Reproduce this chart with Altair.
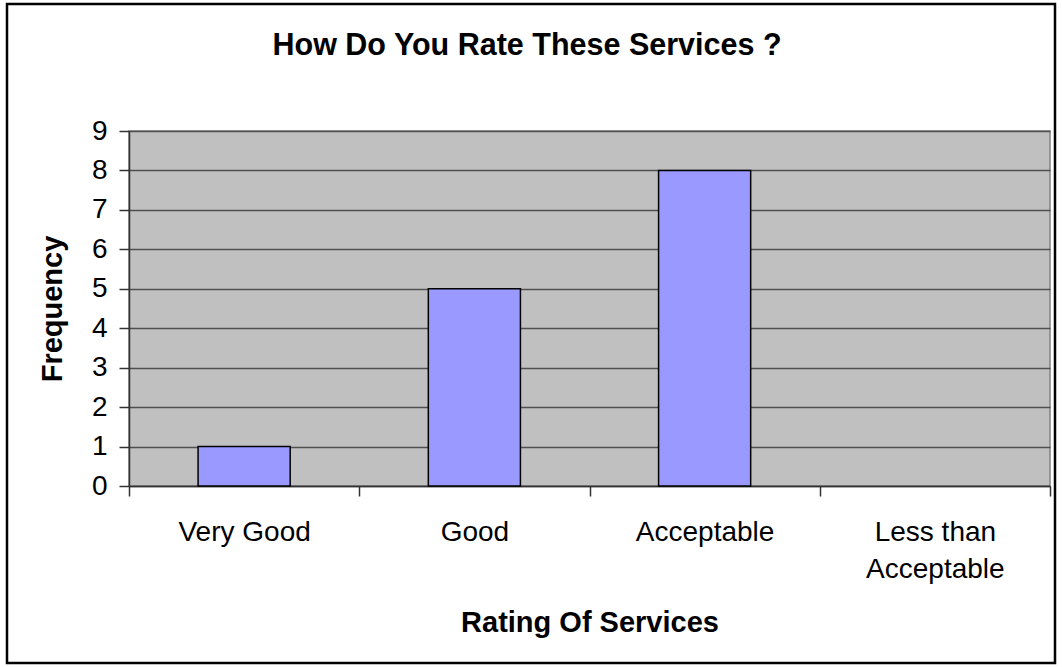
import altair as alt
import pandas as pd

categories = ["Very Good", "Good", "Acceptable", "Less than Acceptable"]
frequency = [1, 5, 8, 0]
y_ticks = [0, 1, 2, 3, 4, 5, 6, 7, 8, 9]
title_text = ["How Do You Rate These Services ?"]

df = pd.DataFrame({"rating": categories, "freq": frequency})
tdf = pd.DataFrame({"t": title_text})

FONT = "Liberation Sans"
W, H = 921, 355

x_enc = alt.X(
    "rating:N",
    sort=categories,
    scale=alt.Scale(domain=categories, paddingInner=0, paddingOuter=0),
    axis=alt.Axis(
        title="Rating Of Services",
        titleFont=FONT, titleFontSize=29, titleFontWeight="bold", titleColor="black",
        titlePadding=25,
        labelFont=FONT, labelFontSize=28, labelColor="black", labelAngle=0,
        labelPadding=22, labelLineHeight=37, labelBaseline="top",
        labelExpr="datum.value == 'Less than Acceptable' ? ['Less than', 'Acceptable'] : datum.label",
        tickBand="extent", tickSize=10, tickColor="#333333", tickWidth=1.5,
        domainColor="#333333", domainWidth=1.5, grid=False,
    ),
)

bars = alt.Chart(df).transform_filter("datum.freq > 0").mark_bar(
    width=alt.RelativeBandSize(0.4), color="#9999FF", stroke="black", strokeWidth=1.5
).encode(
    x=x_enc,
    y=alt.Y(
        "freq:Q",
        scale=alt.Scale(domain=[0, 9], nice=False),
        axis=alt.Axis(
            values=y_ticks, title="Frequency",
            titleFont=FONT, titleFontSize=29, titleFontWeight="bold", titleColor="black",
            titlePadding=24,
            labelFont=FONT, labelFontSize=28, labelColor="black", labelPadding=12,
            tickSize=10, tickColor="#333333", tickWidth=1.5,
            domainColor="#333333", domainWidth=1.5,
            grid=True, gridColor="#505050", gridWidth=1.5,
        ),
    ),
)

title = alt.Chart(tdf).mark_text(
    font=FONT, fontSize=30.5, fontWeight="bold", color="black",
    align="center", baseline="alphabetic",
).encode(x=alt.value(398), y=alt.value(-76), text="t:N")

frame = alt.Chart(tdf).mark_rect(fill=None, stroke="black", strokeWidth=2.5).encode(
    x=alt.value(-122), x2=alt.value(926), y=alt.value(-127), y2=alt.value(532)
)

chart = alt.layer(bars, title, frame).properties(
    width=W, height=H,
    padding={"left": 129, "top": 131, "right": 12, "bottom": 181},
    autosize="none",
).configure_view(
    fill="#C0C0C0", stroke="#808080", strokeWidth=1.5
)

chart.save("out.html", embed_options={"renderer": "svg", "actions": False})
